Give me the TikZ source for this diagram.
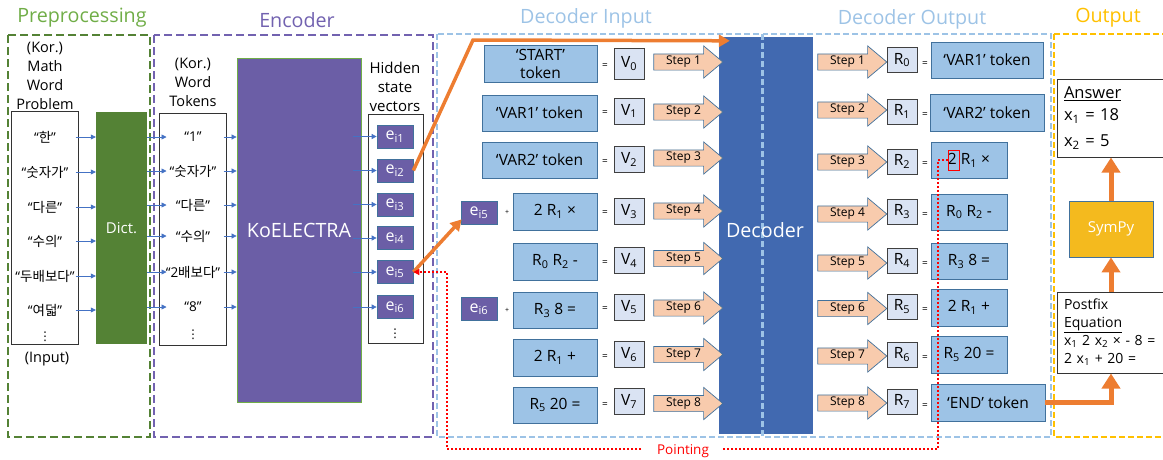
\documentclass[tikz,border=0pt]{standalone}
\usepackage{fontspec}
\setmainfont{Open Sans}
\newfontfamily\kr{Noto Sans CJK KR}
\newfontfamily\dv{DejaVu Sans}
\usetikzlibrary{shapes.arrows,arrows.meta,calc}

\definecolor{prepgreen}{HTML}{70AD47}
\definecolor{dictgreen}{HTML}{548235}
\definecolor{encpurple}{HTML}{7262B0}
\definecolor{kofill}{HTML}{6B5EA6}
\definecolor{declight}{HTML}{9DC3E6}
\definecolor{tokfill}{HTML}{9DC3E6}
\definecolor{tokedge}{HTML}{41719C}
\definecolor{vfill}{HTML}{DAE3F3}
\definecolor{stepfill}{HTML}{F8CBAD}
\definecolor{decblue}{HTML}{4169B0}
\definecolor{outgold}{HTML}{FFC000}
\definecolor{symgold}{HTML}{F4BA1E}
\definecolor{flow}{HTML}{ED7D31}
\definecolor{linkblue}{HTML}{4472C4}

\newcommand{\fsz}[2]{\fontsize{#1}{#2}\selectfont}
\newcommand{\colmore}{{\dv\fsz{12}{12}⋮}}

\tikzset{
  ttl/.style={font=\fsz{19.7}{22}, inner sep=0pt},
  hdr/.style={font=\fsz{14.5}{19}, align=center, inner sep=0pt},
  kitem/.style={font=\fsz{13.5}{15}, inner sep=0pt},
  column/.style={draw=black!80, line width=1pt, inner sep=0pt},
  evec/.style={draw=tokedge, fill=kofill, line width=0.7pt, minimum width=36pt,
    minimum height=23pt, inner sep=0pt, text=white, font=\fsz{16}{18}},
  tok/.style={draw=tokedge, fill=tokfill, line width=0.8pt, inner sep=0pt,
    align=center, font=\fsz{15.5}{18}},
  sym/.style={draw=black!75, fill=vfill, line width=0.8pt, minimum width=30pt,
    minimum height=26pt, inner sep=0pt, font=\fsz{15.5}{17}},
  eqsign/.style={font=\fsz{10}{10}, inner sep=0pt},
  plussign/.style={font=\fsz{7}{7}, inner sep=0pt},
  stepar/.style={single arrow, draw=tokedge, fill=stepfill, line width=0.7pt,
    minimum height=69pt, single arrow head extend=8pt, single arrow tip angle=80,
    inner xsep=1pt, inner ysep=2.5pt, text height=8pt, text depth=2.5pt,
    font=\fsz{12}{12}},
  feed/.style={draw=linkblue, line width=0.7pt, -{Triangle[length=5pt,width=5pt]}},
  flowline/.style={draw=flow, line width=3.5pt, -{Triangle[length=11pt,width=12pt]}},
  bigflow/.style={draw=flow, line width=5pt, -{Triangle[length=15pt,width=18pt]}},
  ptrline/.style={draw=red, line width=1.5pt, dash pattern=on 2pt off 2pt,
    -{Triangle[length=6pt,width=6pt]}},
  group/.style={line width=2.5pt, dash pattern=on 8pt off 4pt},
  groupthin/.style={line width=1.5pt, dash pattern=on 6pt off 3pt},
}

\begin{document}
\begin{tikzpicture}[x=1pt,y=-1pt]
\useasboundingbox (0,0) rectangle (1163,459);
\clip (0,0) rectangle (1163,459);

% decoder block (drawn first so the group borders run across it)
\node[fill=decblue, minimum width=94pt, minimum height=397pt, inner sep=0pt] (dec) at (766,235.5) {};

% group frames
\draw[group, draw=dictgreen] (8,35) rectangle (150,437);
\draw[group, draw=encpurple] (154,35) rectangle (433,437);
\draw[groupthin, draw=declight] (437,34) rectangle (762,437);
\draw[groupthin, draw=declight] (763,34) rectangle (1051,437);
\draw[groupthin, draw=outgold] (1054,34) rectangle (1185,437);

\node[text=white, font=\fsz{19.7}{22}] (declabel) at (765,230) {Decoder};

% titles
\node[ttl, text=prepgreen] (tprep) at (82,18) {Preprocessing};
\node[ttl, text=encpurple] (tenc) at (297,20) {Encoder};
\node[ttl, text=declight] (tdin) at (586,18) {Decoder Input};
\node[ttl, text=declight] (tdout) at (912,19) {Decoder Output};
\node[ttl, text=outgold] (tout) at (1108,18) {Output};

% ---------------- preprocessing ----------------
\node[hdr] (hprob) at (45,75.5) {(Kor.)\\Math\\Word\\Problem};
\node[column, minimum width=67pt, minimum height=233pt] (inbox) at (44.5,227.5) {};
\node[kitem] (p1) at (45,137) {“{\kr 한}”};
\node[kitem] (p2) at (45,172) {“{\kr 숫자가}”};
\node[kitem] (p3) at (45,207) {“{\kr 다른}”};
\node[kitem] (p4) at (45,241) {“{\kr 수의}”};
\node[kitem] (p5) at (45,276) {“{\kr 두배보다}”};
\node[kitem] (p6) at (45,310) {“{\kr 여덟}”};
\node[inner sep=0pt] (pdots) at (45,337) {\colmore};
\node[hdr] (hinput) at (47,359) {(Input)};
\node[fill=dictgreen, minimum width=51pt, minimum height=232pt, inner sep=0pt,
  text=white, font=\fsz{15}{17}] (dict) at (121.5,228) {Dict.};

% ---------------- encoder ----------------
\node[hdr] (htok) at (193,82) {(Kor.)\\Word\\Tokens};
\node[column, minimum width=67pt, minimum height=232pt] (wbox) at (192.5,229) {};
\node[kitem] (w1) at (193,137) {“1”};
\node[kitem] (w2) at (193,171) {“{\kr 숫자가}”};
\node[kitem] (w3) at (193,205) {“{\kr 다른}”};
\node[kitem] (w4) at (193,236) {“{\kr 수의}”};
\node[kitem] (w5) at (193,272) {“2{\kr 배보다}”};
\node[kitem] (w6) at (193,307) {“8”};
\node[inner sep=0pt] (wdots) at (193,335) {\colmore};

\node[fill=kofill, draw=prepgreen, line width=0.8pt, minimum width=124pt, minimum height=344pt,
  inner sep=0pt, text=white, font=\fsz{19.7}{22}] (ko) at (299,230) {KoELECTRA};

\node[hdr, font=\fsz{15}{19}] (hhid) at (395,87) {Hidden\\state\\vectors};
\node[column, minimum width=55pt, minimum height=229pt] (hidbox) at (395.5,228.5) {};
\node[evec] (e1) at (395,136.5) {e\textsubscript{i1}};
\node[evec] (e2) at (395,170.5) {e\textsubscript{i2}};
\node[evec] (e3) at (395,204.5) {e\textsubscript{i3}};
\node[evec] (e4) at (395,238) {e\textsubscript{i4}};
\node[evec] (e5) at (395,272) {e\textsubscript{i5}};
\node[evec] (e6) at (395,307) {e\textsubscript{i6}};
\node[inner sep=0pt] (edots) at (395,334) {\colmore};

\foreach \k in {1,...,6} {
  \draw[feed] ($(inbox.east |- p\k)+(-3,0)$) -- (dict.west |- p\k);
  \draw[feed] (dict.east |- w\k) -- ($(wbox.west |- w\k)+(8,0)$);
  \draw[feed] ($(wbox.east |- w\k)+(-3,0)$) -- (ko.west |- w\k);
  \draw[feed] ($(ko.east |- e\k)+(-8,0)$) -- (e\k.west);
}

% ---------------- decoder input ----------------
\node[evec] (e5c) at (479,212.5) {e\textsubscript{i5}};
\node[evec] (e6c) at (479,309) {e\textsubscript{i6}};
\node[plussign] (plus5) at (507,212) {+};
\node[plussign] (plus6) at (507,310) {+};

\node[tok, minimum width=113pt, minimum height=37pt] (a1) at (540.5,63.5) {‘START’\\token};
\node[tok, minimum width=115pt, minimum height=36pt] (a2) at (539.5,113) {‘VAR1’ token};
\node[tok, minimum width=115pt, minimum height=36pt] (a3) at (539.5,160) {‘VAR2’ token};
\node[tok, minimum width=84pt, minimum height=37pt] (a4) at (555,211.5) {2 R\textsubscript{1} ×};
\node[tok, minimum width=84pt, minimum height=37pt] (a5) at (555,261.5) {R\textsubscript{0} R\textsubscript{2} -};
\node[tok, minimum width=84pt, minimum height=36pt] (a6) at (555,310) {R\textsubscript{3} 8 =};
\node[tok, minimum width=84pt, minimum height=37pt] (a7) at (555,357.5) {2 R\textsubscript{1} +};
\node[tok, minimum width=84pt, minimum height=36pt] (a8) at (555,405) {R\textsubscript{5} 20 =};

\node[eqsign] (q1) at (605,66) {=};
\node[eqsign] (q2) at (605,113) {=};
\node[eqsign] (q3) at (605,162) {=};
\node[eqsign] (q4) at (605,213) {=};
\node[eqsign] (q5) at (605,263) {=};
\node[eqsign] (q6) at (605,309) {=};
\node[eqsign] (q7) at (605,357) {=};
\node[eqsign] (q8) at (605,405) {=};

\node[sym, minimum height=31pt] (v0) at (629,63.5) {V\textsubscript{0}};
\node[sym] (v1) at (629,111) {V\textsubscript{1}};
\node[sym] (v2) at (629,159.5) {V\textsubscript{2}};
\node[sym] (v3) at (629,211.5) {V\textsubscript{3}};
\node[sym] (v4) at (629,260.5) {V\textsubscript{4}};
\node[sym] (v5) at (629,307) {V\textsubscript{5}};
\node[sym] (v6) at (629,354.5) {V\textsubscript{6}};
\node[sym] (v7) at (629,401.5) {V\textsubscript{7}};

\node[stepar] (si1) at (683.5,62) {Step 1};
\node[stepar] (si2) at (683.5,112) {Step 2};
\node[stepar] (si3) at (683.5,158) {Step 3};
\node[stepar] (si4) at (683.5,211) {Step 4};
\node[stepar] (si5) at (683.5,258.5) {Step 5};
\node[stepar] (si6) at (683.5,308) {Step 6};
\node[stepar] (si7) at (683.5,354.5) {Step 7};
\node[stepar] (si8) at (683.5,403.5) {Step 8};

% ---------------- decoder output ----------------
\node[stepar] (so1) at (847.5,62) {Step 1};
\node[stepar] (so2) at (847.5,110) {Step 2};
\node[stepar] (so3) at (847.5,162) {Step 3};
\node[stepar] (so4) at (847.5,214) {Step 4};
\node[stepar] (so5) at (847.5,263) {Step 5};
\node[stepar] (so6) at (847.5,308.5) {Step 6};
\node[stepar] (so7) at (847.5,356) {Step 7};
\node[stepar] (so8) at (847.5,403) {Step 8};

\node[sym, minimum height=25pt] (r0) at (902,60) {R\textsubscript{0}};
\node[sym, minimum height=25pt] (r1) at (902,111.5) {R\textsubscript{1}};
\node[sym, minimum height=25pt] (r2) at (902,161.5) {R\textsubscript{2}};
\node[sym, minimum height=25pt] (r3) at (902,211.5) {R\textsubscript{3}};
\node[sym, minimum height=25pt] (r4) at (902,260.5) {R\textsubscript{4}};
\node[sym, minimum height=25pt] (r5) at (902,306.5) {R\textsubscript{5}};
\node[sym, minimum height=25pt] (r6) at (902,354.5) {R\textsubscript{6}};
\node[sym, minimum height=25pt] (r7) at (902,401.5) {R\textsubscript{7}};

\node[eqsign] (g1) at (925,64) {=};
\node[eqsign] (g2) at (925,115) {=};
\node[eqsign] (g3) at (925,164) {=};
\node[eqsign] (g4) at (925,215) {=};
\node[eqsign] (g5) at (925,264) {=};
\node[eqsign] (g6) at (925,310) {=};
\node[eqsign] (g7) at (925,358) {=};
\node[eqsign] (g8) at (925,406) {=};

\node[tok, minimum width=112pt, minimum height=36pt] (o1) at (987,60) {‘VAR1’ token};
\node[tok, minimum width=114pt, minimum height=37pt] (o2) at (987,112.5) {‘VAR2’ token};
\node[tok, minimum width=76pt, minimum height=36pt] (o3) at (969,160) {2 R\textsubscript{1} ×};
\node[tok, minimum width=76pt, minimum height=36pt] (o4) at (969,212) {R\textsubscript{0} R\textsubscript{2} -};
\node[tok, minimum width=76pt, minimum height=36pt] (o5) at (969,261) {R\textsubscript{3} 8 =};
\node[tok, minimum width=76pt, minimum height=37pt] (o6) at (969,307.5) {2 R\textsubscript{1} +};
\node[tok, minimum width=76pt, minimum height=37pt] (o7) at (969,354.5) {R\textsubscript{5} 20 =};
\node[tok, minimum width=114pt, minimum height=37pt] (o8) at (988,402.5) {‘END’ token};

\node[draw=red, line width=0.8pt, minimum width=11pt, minimum height=20pt, inner sep=0pt] (ptr) at (954,160) {};

% ---------------- output ----------------
\node[draw=black!80, line width=1pt, text width=94pt, inner xsep=7pt, minimum height=81pt,
  align=left, font=\fsz{14}{18}] (pf) at (1111,332.5)
  {Postfix\\\underline{Equation}\\x\textsubscript{1} 2 x\textsubscript{2} × - 8 =\\2 x\textsubscript{1} + 20 =};
\node[fill=symgold, draw=tokedge, line width=0.7pt, minimum width=84pt, minimum height=56pt,
  inner sep=0pt, text=white, font=\fsz{15}{17}] (sym) at (1111,229) {SymPy};
\node[draw=black!80, line width=1pt, text width=94pt, inner xsep=7pt, minimum height=78pt,
  align=left, font=\fsz{16.5}{22}] (ans) at (1111,118)
  {\underline{Answer}\\x\textsubscript{1} = 18\\[4pt]x\textsubscript{2} = 5};

% ---------------- connectors ----------------
\coordinate (fbend) at (473,40);
\draw[flowline] (e2.east) -- (fbend) -- ($(dec.north west)+(11,4)$);
\draw[flowline] (e5.east) -- ($(e5c.south west)+(1,-5)$);

\coordinate (pA) at (938,160);
\coordinate (pB) at (938,449);
\coordinate (pC) at (447,449);
\coordinate (pD) at (447,272);
\draw[ptrline] (ptr.west) -- (pA) -- (pB) -- (pC) -- (pD) -- (e5.east);
\node[fill=white, text=red, inner xsep=14pt, inner ysep=1pt, font=\fsz{13.5}{15}] (ptlabel) at (683,451) {Pointing};

\coordinate (fc) at (pf.south |- o8.east);
\draw[bigflow] (o8.east) -- (fc) -- (pf.south);
\draw[bigflow] (pf.north) -- (sym.south);
\draw[bigflow] (sym.north) -- (ans.south);
\end{tikzpicture}
\end{document}
